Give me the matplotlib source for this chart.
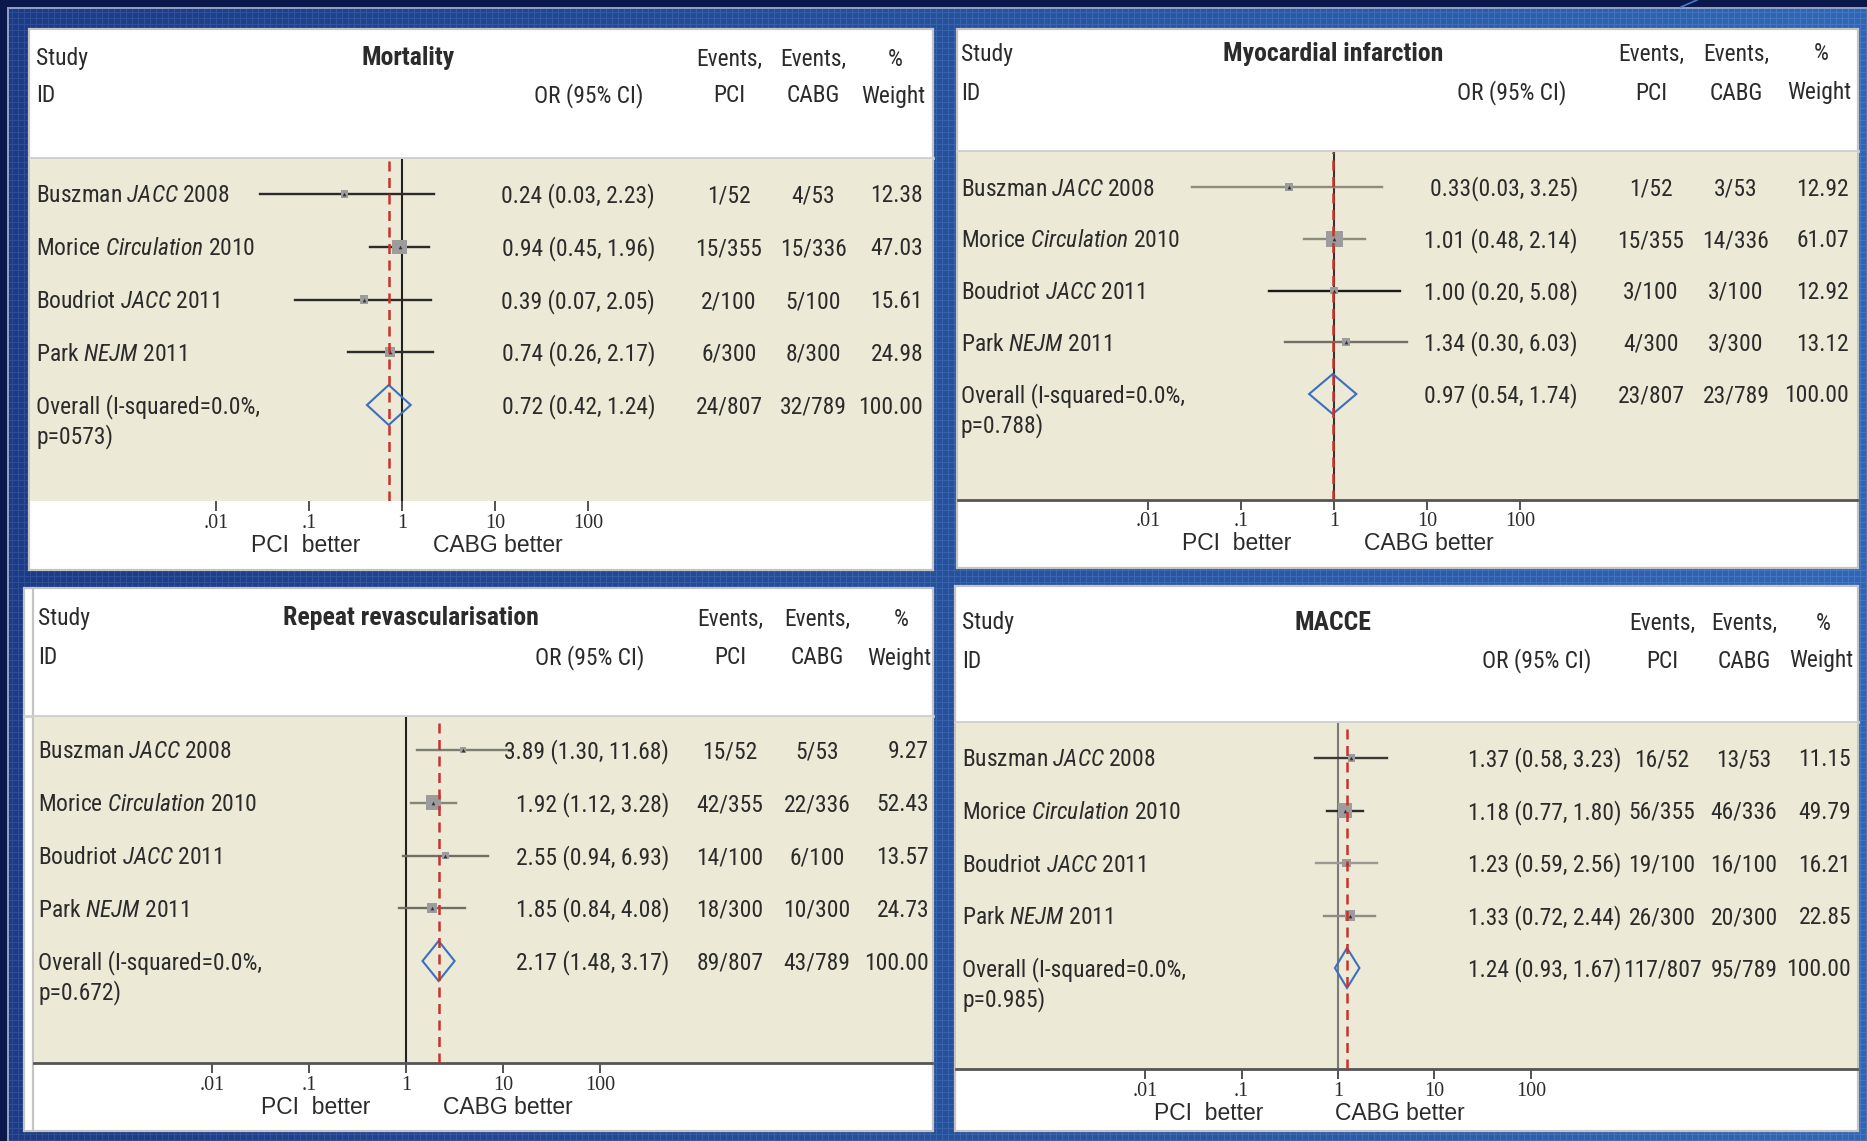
import numpy as np
import matplotlib
matplotlib.use("Agg")
import matplotlib.pyplot as plt
from matplotlib import font_manager, transforms
from matplotlib.patches import Rectangle, Polygon

# ---------------------------------------------------------------- data
authors = ["Buszman", "Morice", "Boudriot", "Park"]
journals = ["JACC", "Circulation", "JACC", "NEJM"]
years = ["2008", "2010", "2011", "2011"]
overall_label = "Overall (I-squared=0.0%,"

titles = ["Mortality", "Myocardial infarction", "Repeat revascularisation", "MACCE"]

# last entry of each list is the pooled (overall) estimate
mort_or = [0.24, 0.94, 0.39, 0.74, 0.72]
mort_lo = [0.03, 0.45, 0.07, 0.26, 0.42]
mort_hi = [2.23, 1.96, 2.05, 2.17, 1.24]
mort_pci = ["1/52", "15/355", "2/100", "6/300", "24/807"]
mort_cabg = ["4/53", "15/336", "5/100", "8/300", "32/789"]
mort_weight = [12.38, 47.03, 15.61, 24.98, 100.00]
mort_p = "p=0573)"

mi_or = [0.33, 1.01, 1.00, 1.34, 0.97]
mi_lo = [0.03, 0.48, 0.20, 0.30, 0.54]
mi_hi = [3.25, 2.14, 5.08, 6.03, 1.74]
mi_pci = ["1/52", "15/355", "3/100", "4/300", "23/807"]
mi_cabg = ["3/53", "14/336", "3/100", "3/300", "23/789"]
mi_weight = [12.92, 61.07, 12.92, 13.12, 100.00]
mi_p = "p=0.788)"

rr_or = [3.89, 1.92, 2.55, 1.85, 2.17]
rr_lo = [1.30, 1.12, 0.94, 0.84, 1.48]
rr_hi = [11.68, 3.28, 6.93, 4.08, 3.17]
rr_pci = ["15/52", "42/355", "14/100", "18/300", "89/807"]
rr_cabg = ["5/53", "22/336", "6/100", "10/300", "43/789"]
rr_weight = [9.27, 52.43, 13.57, 24.73, 100.00]
rr_p = "p=0.672)"

macce_or = [1.37, 1.18, 1.23, 1.33, 1.24]
macce_lo = [0.58, 0.77, 0.59, 0.72, 0.93]
macce_hi = [3.23, 1.80, 2.56, 2.44, 1.67]
macce_pci = ["16/52", "56/355", "19/100", "26/300", "117/807"]
macce_cabg = ["13/53", "46/336", "16/100", "20/300", "95/789"]
macce_weight = [11.15, 49.79, 16.21, 22.85, 100.00]
macce_p = "p=0.985)"

tick_values = [0.01, 0.1, 1, 10, 100]
tick_labels = [".01", ".1", "1", "10", "100"]

# ---------------------------------------------------------------- fonts
names = {f.name for f in font_manager.fontManager.ttflist}


def pick(*cands):
    for c in cands:
        if c in names:
            return c
    return "DejaVu Sans"


NARROW = pick("Liberation Sans Narrow", "Roboto Condensed", "Liberation Sans")
SANS = pick("Liberation Sans", "Arial", "DejaVu Sans")
SERIF = pick("Liberation Serif", "DejaVu Serif")

plt.rcParams["mathtext.fontset"] = "custom"
plt.rcParams["mathtext.rm"] = NARROW
plt.rcParams["mathtext.it"] = NARROW + ":italic"
plt.rcParams["mathtext.bf"] = NARROW + ":bold"

W, H, DPI = 1867, 1141, 100
TXT = "#2b2b2b"
BEIGE = "#ece9d6"
FS = 16.9

fig = plt.figure(figsize=(W / DPI, H / DPI), dpi=DPI)

# ---------------------------------------------------------------- backdrop
yy, xx = np.mgrid[0:H, 0:W]
t = (xx / W)[..., None]
left_c = np.array([0x1c, 0x3b, 0x84]) / 255
right_c = np.array([0x33, 0x66, 0xb2]) / 255
img = left_c * (1 - t) + right_c * t
grid = ((xx % 6 == 0) | (yy % 6 == 0))[..., None]
img = np.clip(img + grid * 0.07, 0, 1)
navy = np.array([0x0b, 0x18, 0x4c]) / 255
img[:7, :] = navy
img[:, :7] = navy
img[7:9, 7:] = np.array([0x8e, 0x9e, 0xc4]) / 255
img[9:, 7:9] = np.array([0x8e, 0x9e, 0xc4]) / 255

bg = fig.add_axes([0, 0, 1, 1], zorder=-5)
bg.imshow(img, extent=(0, W, H, 0), interpolation="nearest", aspect="auto")
bg.set_xlim(0, W)
bg.set_ylim(H, 0)
bg.axis("off")
bg.plot([1681, 1697], [7, 0], color="#4a78c8", lw=1.2)

# ---------------------------------------------------------------- layout (pixels)
layout = [
    dict(box=(29, 29, 933, 570), strip=None, plot=(30, 159, 932, 501), one=402, dec=93,
         rows=(194, 405), label_x=36, or_r=655, pci_c=729, cabg_c=813, w_r=923,
         hdr=(57, 94), title_x=408, orh_x=589, axis_y=546, pci_b=306, cabg_b=498,
         spine=False, ref_c="#222222",
         ci_c=["#2b2b2b", "#2b2b2b", "#2b2b2b", "#2b2b2b"], seps=[" ", " ", " ", " ", " "]),
    dict(box=(957, 29, 1858, 568), strip=None, plot=(958, 152, 1857, 500), one=1334, dec=93,
         rows=(187, 394), label_x=961, or_r=1578, pci_c=1651, cabg_c=1736, w_r=1849,
         hdr=(52, 91), title_x=1333, orh_x=1512, axis_y=543, pci_b=1237, cabg_b=1429,
         spine=True, ref_c="#333333",
         ci_c=["#8d8d7d", "#8d8d7d", "#1a1a1a", "#707068"], seps=["", " ", " ", " ", " "]),
    dict(box=(24, 588, 933, 1131), strip=33, plot=(34, 717, 932, 1063), one=406, dec=97,
         rows=(750, 961), label_x=38, or_r=669, pci_c=730, cabg_c=817, w_r=929,
         hdr=(617, 656), title_x=411, orh_x=590, axis_y=1107, pci_b=316, cabg_b=508,
         spine=True, ref_c="#222222",
         ci_c=["#7d7d70", "#858578", "#6f6f64", "#6f6f64"], seps=[" ", " ", " ", " ", " "]),
    dict(box=(955, 586, 1858, 1131), strip=None, plot=(956, 723, 1857, 1069), one=1338, dec=96.4,
         rows=(758, 968), label_x=962, or_r=1621, pci_c=1662, cabg_c=1744, w_r=1851,
         hdr=(621, 659), title_x=1333, orh_x=1537, axis_y=1114, pci_b=1209, cabg_b=1400,
         spine=True, ref_c="#7a7a7a",
         ci_c=["#3a3a3a", "#2b2b2b", "#9a9a90", "#8d8d84"], seps=[" ", " ", " ", " ", " "]),
]

series = [
    (mort_or, mort_lo, mort_hi, mort_pci, mort_cabg, mort_weight, mort_p),
    (mi_or, mi_lo, mi_hi, mi_pci, mi_cabg, mi_weight, mi_p),
    (rr_or, rr_lo, rr_hi, rr_pci, rr_cabg, rr_weight, rr_p),
    (macce_or, macce_lo, macce_hi, macce_pci, macce_cabg, macce_weight, macce_p),
]

CAP = 8.5  # half cap height in pixels, used to centre text on a row


def head(x, y, s, ha="center", weight="normal", size=FS):
    bg.text(x, y + CAP, s, ha=ha, va="baseline", fontsize=size, family=NARROW,
            color=TXT, fontweight=weight)


for title, lay, (ors, los, his, pcis, cabgs, ws, pval) in zip(titles, layout, series):
    x0, y0, x1, y1 = lay["box"]
    bg.add_patch(Rectangle((x0, y0), x1 - x0, y1 - y0, facecolor="white",
                           edgecolor="#c4c4c4", lw=1.6, zorder=2))
    if lay["strip"] is not None:
        bg.plot([lay["strip"], lay["strip"]], [y0, y1], color="#c4c4c4", lw=1.6, zorder=3)

    px0, py0, px1, py1 = lay["plot"]
    bg.plot([x0, x1], [py0 - 1, py0 - 1], color="#cfcfcf", lw=2, zorder=3)

    # header
    h1, h2 = lay["hdr"]
    head(lay["label_x"], h1, "Study", ha="left")
    head(lay["label_x"], h2, "ID", ha="left")
    head(lay["title_x"], h1, title, weight="bold", size=18.5)
    head(lay["orh_x"], h2, "OR (95% CI)")
    head(lay["pci_c"], h1, "Events,")
    head(lay["pci_c"], h2, "PCI")
    head(lay["cabg_c"], h1, "Events,")
    head(lay["cabg_c"], h2, "CABG")
    head(lay["w_r"] - 28, h1, "%")
    head(lay["w_r"] + 2, h2, "Weight", ha="right")

    bg.text(lay["pci_b"], lay["axis_y"], "PCI  better", ha="center", va="center",
            fontsize=16.5, family=SANS, color=TXT)
    bg.text(lay["cabg_b"], lay["axis_y"], "CABG better", ha="center", va="center",
            fontsize=16.5, family=SANS, color=TXT)

    # forest axes over the shaded band
    ax = fig.add_axes([px0 / W, 1 - py1 / H, (px1 - px0) / W, (py1 - py0) / H], zorder=1)
    ax.set_facecolor(BEIGE)
    ax.set_xscale("log")
    one, dec = lay["one"], lay["dec"]
    ax.set_xlim(10 ** ((px0 - one) / dec), 10 ** ((px1 - one) / dec))
    r0, r4 = lay["rows"]
    ppu = (r4 - r0) / 4.0
    ax.set_ylim(1 + (py1 - r0) / ppu, 1 - (r0 - py0) / ppu)

    for side in ("top", "left", "right"):
        ax.spines[side].set_visible(False)
    ax.spines["bottom"].set_visible(lay["spine"])
    ax.spines["bottom"].set_color("#555555")
    ax.spines["bottom"].set_linewidth(2)
    ax.set_xticks(tick_values)
    ax.set_xticklabels(tick_labels)
    ax.xaxis.set_minor_locator(matplotlib.ticker.NullLocator())
    ax.tick_params(axis="x", direction="out", length=7.5, width=1.3, color="#444444",
                   pad=1.5, labelsize=14.5, labelcolor=TXT)
    for lab in ax.get_xticklabels():
        lab.set_family(SERIF)
    ax.set_yticks([])

    rows = np.arange(1, 6)
    ax.axvline(1, color=lay["ref_c"], lw=1.5, zorder=1)
    ax.axvline(ors[4], color="#c8322d", lw=1.8, ls=(0, (4, 2.6)), zorder=6)

    for i in range(4):
        ax.plot([los[i], his[i]], [rows[i], rows[i]], color=lay["ci_c"][i], lw=1.7, zorder=2)
    side_pt = 2.1 * np.sqrt(np.array(ws[:4])) * 72 / DPI
    ax.scatter(ors[:4], rows[:4], marker="s", s=side_pt ** 2, color="#9c9c9c",
               linewidths=0, zorder=3)
    ax.scatter(ors[:4], rows[:4], marker="^", s=7, color="#333333", linewidths=0, zorder=4)

    hh = 20 / ppu
    yo = rows[4]
    ax.add_patch(Polygon([(los[4], yo), (ors[4], yo - hh), (his[4], yo), (ors[4], yo + hh)],
                         closed=True, fill=False, edgecolor="#3b6fc0", lw=1.5, zorder=5))

    # row texts: x in pixels, y on the row
    tr = transforms.blended_transform_factory(bg.transData, ax.transData)
    tr = tr + transforms.ScaledTranslation(0, -CAP / DPI, fig.dpi_scale_trans)
    kw = dict(transform=tr, va="baseline", fontsize=FS, family=NARROW, color=TXT, clip_on=False)
    for i in range(5):
        y = rows[i]
        if i < 4:
            lbl = f"{authors[i]} $\\it{{{journals[i]}}}$ {years[i]}"
        else:
            lbl = overall_label
        ax.text(lay["label_x"], y, lbl, ha="left", **kw)
        ax.text(lay["or_r"], y, f"{ors[i]:.2f}{lay['seps'][i]}({los[i]:.2f}, {his[i]:.2f})",
                ha="right", **kw)
        ax.text(lay["pci_c"], y, pcis[i], ha="center", **kw)
        ax.text(lay["cabg_c"], y, cabgs[i], ha="center", **kw)
        ax.text(lay["w_r"], y, f"{ws[i]:.2f}", ha="right", **kw)
    ax.text(lay["label_x"], rows[4] + 30 / ppu, pval, ha="left", **kw)

fig.savefig("out.png", dpi=DPI)
